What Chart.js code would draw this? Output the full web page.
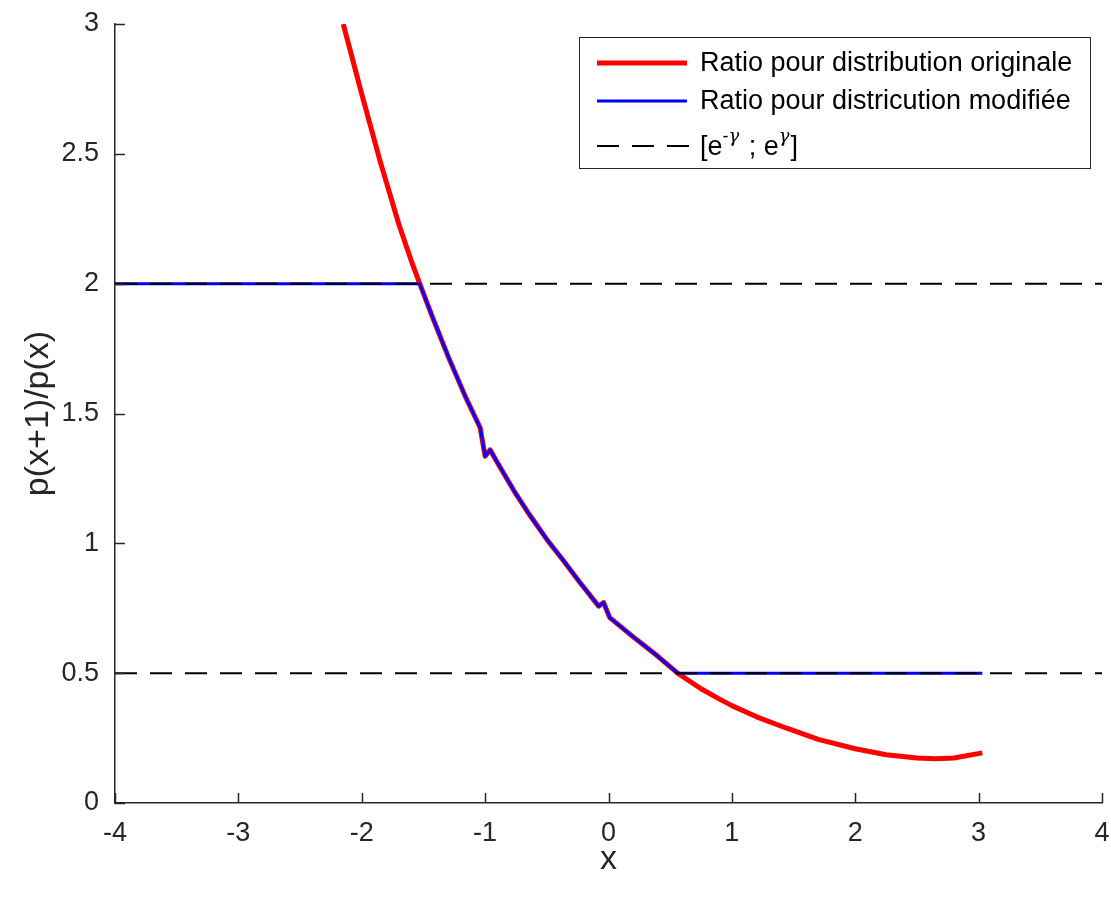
<!DOCTYPE html>
<html>
<head>
<meta charset="utf-8">
<script src="https://cdn.jsdelivr.net/npm/chart.js@4.4.1/dist/chart.umd.min.js"></script>
<style>
  body { margin: 0; background: #fff; }
  canvas { display: block; }
</style>
</head>
<body>
<canvas id="ratio" width="1111" height="899"></canvas>

<script>
// ratio p(x+1)/p(x), original distribution
var xOrig = [-2.15, -2.0, -1.85, -1.7, -1.6, -1.53, -1.43, -1.3, -1.16, -1.04, -1.0, -0.96, -0.9, -0.77, -0.64, -0.5, -0.36, -0.23, -0.08, -0.04, 0.01, 0.2, 0.4, 0.56, 0.75, 0.9, 1.0, 1.2, 1.45, 1.7, 2.0, 2.25, 2.5, 2.65, 2.8, 3.03];
var yOrig = [3.0, 2.73, 2.47, 2.23, 2.09, 2.0, 1.875, 1.72, 1.565, 1.445, 1.335, 1.36, 1.31, 1.205, 1.11, 1.015, 0.93, 0.848, 0.758, 0.772, 0.714, 0.64, 0.565, 0.5, 0.44, 0.4, 0.375, 0.332, 0.287, 0.245, 0.209, 0.186, 0.173, 0.17, 0.173, 0.193];

// ratio for the modified distribution (held inside the bounds)
var xMod = [-4, -1.53, -1.43, -1.3, -1.16, -1.04, -1.0, -0.96, -0.9, -0.77, -0.64, -0.5, -0.36, -0.23, -0.08, -0.04, 0.01, 0.2, 0.4, 0.56, 3.03];
var yMod = [2.0, 2.0, 1.875, 1.72, 1.565, 1.445, 1.335, 1.36, 1.31, 1.205, 1.11, 1.015, 0.93, 0.848, 0.758, 0.772, 0.714, 0.64, 0.565, 0.5, 0.5];

// bounds e^-gamma and e^gamma
var boundX = [-4, 4];
var boundLow = 0.5;
var boundHigh = 2;

var xTicks = [-4, -3, -2, -1, 0, 1, 2, 3, 4];
var yTicks = [0, 0.5, 1, 1.5, 2, 2.5, 3];

var legendLabels = ["Ratio pour distribution originale", "Ratio pour districution modifiée"];

function pts(xs, ys) {
  var out = [];
  for (var i = 0; i < xs.length; i++) out.push({x: xs[i], y: ys[i]});
  return out;
}

var axisColor = "#262626";
var font = "Liberation Sans, Arial, Helvetica, sans-serif";

// MATLAB style ticks pointing into the plot
var innerTicks = {
  id: "innerTicks",
  afterDraw: function(chart) {
    var ctx = chart.ctx, a = chart.chartArea;
    var sx = chart.scales.x, sy = chart.scales.y;
    ctx.save();
    ctx.strokeStyle = axisColor;
    ctx.lineWidth = 1.5;
    ctx.beginPath();
    xTicks.forEach(function(v) {
      var px = Math.round(sx.getPixelForValue(v)) + 0.5;
      ctx.moveTo(px, a.bottom);
      ctx.lineTo(px, a.bottom - 10);
    });
    yTicks.forEach(function(v) {
      var py = Math.round(sy.getPixelForValue(v)) + 0.5;
      ctx.moveTo(a.left, py);
      ctx.lineTo(a.left + 10, py);
    });
    ctx.stroke();
    ctx.restore();
  }
};

// legend box with the superscripted bound label
var boxLegend = {
  id: "boxLegend",
  afterDraw: function(chart) {
    var ctx = chart.ctx;
    var bx = 579.5, by = 37.5, bw = 511, bh = 131;
    ctx.save();
    ctx.fillStyle = "#fff";
    ctx.fillRect(bx, by, bw, bh);
    ctx.strokeStyle = axisColor;
    ctx.lineWidth = 1;
    ctx.strokeRect(bx, by, bw, bh);

    var x0 = 597, x1 = 687, tx = 700;
    var rows = [63, 101, 146];

    ctx.lineCap = "butt";
    ctx.strokeStyle = "#ff0000";
    ctx.lineWidth = 5;
    ctx.beginPath(); ctx.moveTo(x0, rows[0]); ctx.lineTo(x1, rows[0]); ctx.stroke();
    ctx.strokeStyle = "#0000ff";
    ctx.lineWidth = 3;
    ctx.beginPath(); ctx.moveTo(x0, rows[1]); ctx.lineTo(x1, rows[1]); ctx.stroke();
    ctx.strokeStyle = "#000";
    ctx.lineWidth = 2;
    ctx.setLineDash([22, 13]);
    ctx.beginPath(); ctx.moveTo(x0, rows[2]); ctx.lineTo(x1 + 2, rows[2]); ctx.stroke();
    ctx.setLineDash([]);

    ctx.fillStyle = "#000";
    ctx.textBaseline = "middle";
    ctx.textAlign = "left";
    ctx.font = "27px " + font;
    ctx.fillText(legendLabels[0], tx, rows[0] + 1);
    ctx.fillText(legendLabels[1], tx, rows[1] + 1);

    // [e^{-γ} ; e^{γ}]
    var y = rows[2] + 2, x = tx;
    var supFont = "italic 18px DejaVu Serif, serif";
    ctx.font = "27px " + font;
    ctx.fillText("[e", x, y); x += ctx.measureText("[e").width;
    ctx.font = "18px " + font;
    ctx.fillText("-", x, y - 11); x += ctx.measureText("-").width;
    ctx.font = supFont;
    ctx.fillText("\u03b3", x, y - 11); x += ctx.measureText("\u03b3").width + 2;
    ctx.font = "27px " + font;
    ctx.fillText(" ; e", x, y); x += ctx.measureText(" ; e").width;
    ctx.font = supFont;
    ctx.fillText("\u03b3", x, y - 11); x += ctx.measureText("\u03b3").width + 1;
    ctx.font = "27px " + font;
    ctx.fillText("]", x, y);
    ctx.restore();
  }
};

new Chart(document.getElementById("ratio"), {
  type: "scatter",
  data: {
    datasets: [
      {
        label: "borne haute",
        data: pts(boundX, [boundHigh, boundHigh]),
        borderColor: "#000", borderWidth: 2, borderDash: [22, 13],
        showLine: true, pointRadius: 0, order: 0
      },
      {
        label: "borne basse",
        data: pts(boundX, [boundLow, boundLow]),
        borderColor: "#000", borderWidth: 2, borderDash: [22, 13],
        showLine: true, pointRadius: 0, order: 0
      },
      {
        label: legendLabels[1],
        data: pts(xMod, yMod),
        borderColor: "#0000ff", borderWidth: 3,
        showLine: true, pointRadius: 0, order: 1,
        borderJoinStyle: "round"
      },
      {
        label: legendLabels[0],
        data: pts(xOrig, yOrig),
        borderColor: "#ff0000", borderWidth: 5,
        showLine: true, pointRadius: 0, order: 2,
        borderJoinStyle: "round"
      }
    ]
  },
  options: {
    responsive: false,
    animation: false,
    devicePixelRatio: 1,
    layout: { padding: { top: 24, right: 9, left: 0, bottom: 0 } },
    plugins: { legend: { display: false }, tooltip: { enabled: false } },
    scales: {
      x: {
        type: "linear", min: -4, max: 4,
        afterFit: function(s) { s.height = 96; s.paddingLeft = 0; s.paddingRight = 0; },
        afterBuildTicks: function(s) { s.ticks = xTicks.map(function(v) { return {value: v}; }); },
        grid: { display: false, drawTicks: false },
        border: { display: true, color: axisColor, width: 1.5 },
        ticks: { color: axisColor, padding: 14, font: { family: font, size: 27 },
                 maxRotation: 0, callback: function(v) { return String(v); } },
        title: { display: true, text: "x", color: axisColor,
                 font: { family: font, size: 34 }, padding: { top: 0, bottom: 19 } }
      },
      y: {
        type: "linear", min: 0, max: 3,
        afterFit: function(s) { s.width = 115; s.paddingTop = 0; s.paddingBottom = 0; },
        afterBuildTicks: function(s) { s.ticks = yTicks.map(function(v) { return {value: v}; }); },
        grid: { display: false, drawTicks: false },
        border: { display: true, color: axisColor, width: 1.5 },
        ticks: { color: axisColor, padding: 16, font: { family: font, size: 27 },
                 callback: function(v) { return String(v); } },
        title: { display: true, text: "p(x+1)/p(x)", color: axisColor,
                 font: { family: font, size: 34 }, padding: { top: 18, bottom: 0 } }
      }
    }
  },
  plugins: [innerTicks, boxLegend]
});
</script>
</body>
</html>
